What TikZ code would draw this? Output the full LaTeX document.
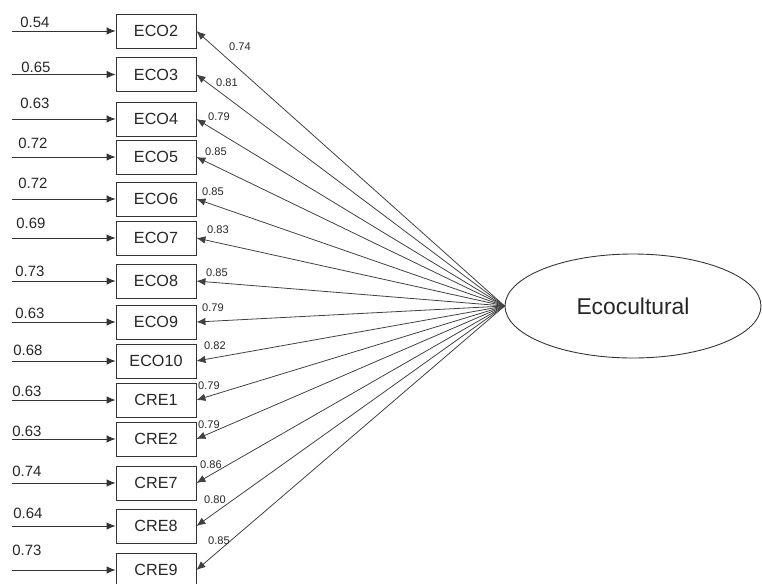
\documentclass[tikz,border=0pt]{standalone}
\usepackage{fontspec}
\setmainfont{Liberation Sans}
\usetikzlibrary{arrows.meta,shapes.geometric}
\tikzset{
  indicator/.style={draw=black!80,line width=.5pt,minimum width=1.6cm,minimum height=.68cm,inner sep=0pt,text=black!85,font=\fontsize{9.2}{11}\selectfont},
  latent/.style={ellipse,draw=black!80,line width=.5pt,minimum width=5.12cm,minimum height=2.08cm,inner sep=0pt,text=black!85,font=\fontsize{13}{15}\selectfont},
  loadarrow/.style={-{Latex[length=1.8mm,width=1.5mm]},draw=black!75,line width=.45pt},
  errarrow/.style={-{Latex[length=1.8mm,width=1.5mm]},draw=black!80,line width=.5pt},
  errlabel/.style={font=\fontsize{8.5}{9}\selectfont,text=black!85,anchor=west,inner sep=0pt},
  loadlabel/.style={font=\fontsize{6.3}{7}\selectfont,text=black!85,inner sep=0pt}
}
\begin{document}
\begin{tikzpicture}[x=.02cm,y=-.02cm]
  \useasboundingbox (0,0) rectangle (762,583);
  \node[latent] (fac) at (633,306) {Ecocultural};
  \coordinate (hub) at (fac.west);
  % indicators: name/text/y/error/x,y of error/loading/x,y of loading
  \foreach \name/\txt/\yc/\err/\ex/\ey/\ld/\lx/\ly in {
    eco2/ECO2/31/0.54/20/22/0.74/240/47,
    eco3/ECO3/74.5/0.65/21/67/0.81/227/83,
    eco4/ECO4/119/0.63/20/103/0.79/219/117,
    eco5/ECO5/157/0.72/18/143/0.85/216/152,
    eco6/ECO6/199/0.72/18/183/0.85/213/192,
    eco7/ECO7/238/0.69/16/223/0.83/218/230,
    eco8/ECO8/281/0.73/15/271/0.85/217/273,
    eco9/ECO9/322/0.63/15/313/0.79/213/308,
    eco10/ECO10/361/0.68/13/350/0.82/215/346,
    cre1/CRE1/400/0.63/12/391/0.79/209/386,
    cre2/CRE2/439/0.63/12/431/0.79/209/425,
    cre7/CRE7/483/0.74/12/471/0.86/211/465,
    cre8/CRE8/526/0.64/13/513/0.80/215/500,
    cre9/CRE9/570/0.73/12/550/0.85/219/541}{
    \node[indicator] (\name) at (156,\yc) {\txt};
    \coordinate (\name e) at (12,\yc);
    \draw[errarrow] (\name e) -- (\name.west);
    \node[errlabel] (\name err) at (\ex,\ey) {\err};
    \draw[loadarrow] (hub) -- (\name.east);
    \node[loadlabel] (\name ld) at (\lx,\ly) {\ld};
  }
\end{tikzpicture}
\end{document}
